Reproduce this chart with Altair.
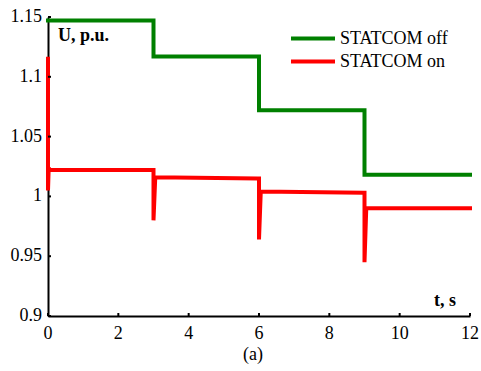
import altair as alt
import pandas as pd

# STATCOM off (green)
off_t = [0, 3, 3, 6, 6, 9, 9, 12]
off_u = [1.147, 1.147, 1.117, 1.117, 1.072, 1.072, 1.018, 1.018]

# STATCOM on (red)
on_t = [0, 0, 0.02, 0.05, 2.97, 3.0, 3.0, 3.05, 5.97, 6.0, 6.0, 6.05, 8.97, 9.0, 9.0, 9.05, 12]
on_u = [1.115, 1.005, 1.024, 1.022, 1.022, 1.022, 0.980, 1.016, 1.015, 1.015, 0.964, 1.004, 1.003, 1.003, 0.945, 0.990, 0.990]

x_ticks = [0, 2, 4, 6, 8, 10, 12]
x_labels = ["0", "2", "4", "6", "8", "10", "12"]
y_ticks = [0.9, 0.95, 1.0, 1.05, 1.1, 1.15]
y_labels = ["0.9", "0.95", "1", "1.05", "1.1", "1.15"]

series_names = ["STATCOM off", "STATCOM on"]
series_colors = ["#008000", "#ff0000"]

rows = []
for i, (t, u) in enumerate(zip(off_t, off_u)):
    rows.append({"t": t, "u": u, "series": "STATCOM off", "i": i})
for i, (t, u) in enumerate(zip(on_t, on_u)):
    rows.append({"t": t, "u": u, "series": "STATCOM on", "i": i})
df = pd.DataFrame(rows)

FONT = "Liberation Serif"
FS = 18

xscale = alt.Scale(domain=[0, 12], nice=False, zero=False)
yscale = alt.Scale(domain=[0.9, 1.15], nice=False, zero=False)
cscale = alt.Scale(domain=series_names, range=series_colors)

lines = alt.Chart(df).mark_line(strokeWidth=4, interpolate="linear", strokeCap="square").encode(
    x=alt.X("t:Q", scale=xscale,
            axis=alt.Axis(values=x_ticks, title=None, grid=False, labels=False, ticks=False,
                          domainColor="black", domainWidth=2)),
    y=alt.Y("u:Q", scale=yscale,
            axis=alt.Axis(values=y_ticks, title=None, grid=False, labels=False, ticks=False,
                          domainColor="black", domainWidth=2)),
    color=alt.Color("series:N", scale=cscale, legend=None),
    order="i:Q",
)

xdf = pd.DataFrame({"t": x_ticks, "lab": x_labels})
ydf = pd.DataFrame({"u": y_ticks, "lab": y_labels})

xlab = alt.Chart(xdf).mark_text(
    align="center", baseline="middle", font=FONT, fontSize=FS, color="black"
).encode(x=alt.X("t:Q", scale=xscale), y=alt.value(317), text="lab:N")

ylab = alt.Chart(ydf).mark_text(
    align="right", baseline="middle", font=FONT, fontSize=FS, color="black"
).encode(y=alt.Y("u:Q", scale=yscale), x=alt.value(-6), text="lab:N")

xtick = alt.Chart(xdf).mark_rule(color="black", strokeWidth=2).encode(
    x=alt.X("t:Q", scale=xscale), y=alt.value(299), y2=alt.value(296))

ytick = alt.Chart(ydf).mark_rule(color="black", strokeWidth=2).encode(
    y=alt.Y("u:Q", scale=yscale), x=alt.value(0), x2=alt.value(3))

def legend_entry(idx, ypix):
    d = pd.DataFrame({"series": [series_names[idx]]})
    rule = alt.Chart(d).mark_rule(strokeWidth=4).encode(
        x=alt.value(243), x2=alt.value(287), y=alt.value(ypix),
        color=alt.Color("series:N", scale=cscale, legend=None))
    txt = alt.Chart(d).mark_text(
        align="left", baseline="middle", font=FONT, fontSize=FS, color="black"
    ).encode(x=alt.value(292), y=alt.value(ypix), text="series:N")
    return rule + txt

leg_off = legend_entry(0, 21.5)
leg_on = legend_entry(1, 44.5)

ulabel = alt.Chart(pd.DataFrame({"s": ["U, p.u."]})).mark_text(
    align="left", baseline="middle", font=FONT, fontSize=FS, fontWeight="bold", color="black"
).encode(text="s:N", x=alt.value(10), y=alt.value(19))

tlabel = alt.Chart(pd.DataFrame({"s": ["t, s"]})).mark_text(
    align="left", baseline="middle", font=FONT, fontSize=FS, fontWeight="bold", color="black"
).encode(text="s:N", x=alt.value(386), y=alt.value(284))

alabel = alt.Chart(pd.DataFrame({"s": ["(a)"]})).mark_text(
    align="center", baseline="middle", font=FONT, fontSize=FS, color="black"
).encode(text="s:N", x=alt.value(205), y=alt.value(338))

chart = alt.layer(lines, xtick, ytick, xlab, ylab, leg_off, leg_on, ulabel, tlabel, alabel).properties(
    width=422, height=299,
    autosize=alt.AutoSizeParams(type="none"),
    padding={"left": 48, "top": 17, "right": 11, "bottom": 55},
    background="white",
).configure_view(stroke=None)

chart.save("out.html", embed_options={"renderer": "svg", "actions": False})
